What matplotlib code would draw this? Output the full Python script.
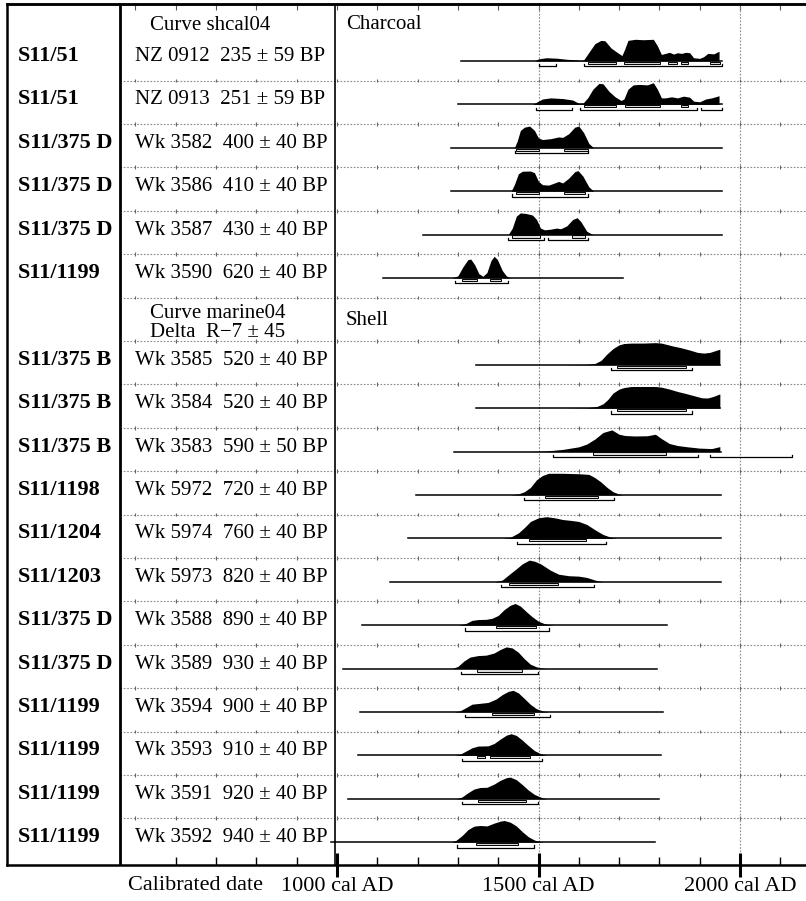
import matplotlib
matplotlib.use("Agg")
import matplotlib.pyplot as plt
from matplotlib.patches import Rectangle

plt.rcParams['font.family'] = ['Liberation Serif', 'DejaVu Serif']

# ---------------- data ----------------
sites = ["S11/51", "S11/51", "S11/375 D", "S11/375 D", "S11/375 D", "S11/1199",
         "S11/375 B", "S11/375 B", "S11/375 B", "S11/1198", "S11/1204", "S11/1203",
         "S11/375 D", "S11/375 D", "S11/1199", "S11/1199", "S11/1199", "S11/1199"]
labs = ["NZ 0912", "NZ 0913", "Wk 3582", "Wk 3586", "Wk 3587", "Wk 3590",
        "Wk 3585", "Wk 3584", "Wk 3583", "Wk 5972", "Wk 5974", "Wk 5973",
        "Wk 3588", "Wk 3589", "Wk 3594", "Wk 3593", "Wk 3591", "Wk 3592"]
bp_age = [235, 251, 400, 410, 430, 620, 520, 520, 590, 720, 760, 820,
          890, 930, 900, 910, 920, 940]
bp_err = [59, 59, 40, 40, 40, 40, 40, 40, 50, 40, 40, 40,
          40, 40, 40, 40, 40, 40]
n_charcoal = 6

span_start = [1308, 1300, 1283, 1283, 1213, 1114, 1345, 1345, 1290, 1196, 1176, 1131,
              1062, 1015, 1057, 1052, 1027, 985]
span_end = [1955, 1955, 1955, 1955, 1955, 1710, 1950, 1950, 1953, 1953, 1953, 1953,
            1819, 1794, 1809, 1804, 1799, 1789]

profile_years = [
    [1490, 1500, 1520, 1545, 1570, 1595, 1605, 1612, 1625, 1640, 1655, 1665, 1680, 1695, 1707,
     1714, 1722, 1740, 1760, 1785, 1795, 1805, 1815, 1825, 1835, 1845, 1855, 1865, 1875, 1885,
     1900, 1910, 1920, 1935, 1948, 1948],
    [1485, 1495, 1510, 1530, 1560, 1585, 1600, 1610, 1622, 1635, 1650, 1660, 1675, 1690, 1705,
     1712, 1722, 1735, 1750, 1770, 1785, 1795, 1805, 1815, 1830, 1845, 1860, 1875, 1885, 1900,
     1915, 1930, 1948, 1948],
    [1440, 1447, 1455, 1465, 1478, 1490, 1500, 1510, 1530, 1550, 1560, 1575, 1590, 1600, 1612,
     1625, 1637],
    [1432, 1440, 1450, 1460, 1480, 1490, 1500, 1510, 1525, 1540, 1550, 1560, 1575, 1590, 1598,
     1610, 1625, 1637],
    [1425, 1435, 1445, 1455, 1470, 1485, 1495, 1505, 1515, 1530, 1545, 1555, 1570, 1585, 1596,
     1605, 1620, 1635],
    [1285, 1300, 1312, 1325, 1332, 1342, 1352, 1362, 1372, 1382, 1390, 1398, 1410, 1420, 1430],
    [1560, 1620, 1640, 1655, 1670, 1685, 1700, 1712, 1730, 1760, 1790, 1805, 1820, 1835, 1855,
     1875, 1895, 1910, 1925, 1940, 1950, 1950],
    [1560, 1620, 1645, 1660, 1672, 1685, 1700, 1712, 1730, 1760, 1790, 1805, 1825, 1845, 1865,
     1885, 1905, 1920, 1935, 1950, 1950],
    [1480, 1520, 1560, 1600, 1620, 1640, 1660, 1682, 1700, 1715, 1740, 1770, 1790, 1805, 1825,
     1845, 1870, 1900, 1930, 1950, 1950],
    [1430, 1450, 1465, 1480, 1495, 1510, 1525, 1560, 1600, 1625, 1640, 1655, 1670, 1685, 1700,
     1710],
    [1410, 1430, 1450, 1465, 1480, 1500, 1520, 1540, 1560, 1580, 1600, 1620, 1640, 1660, 1680,
     1695],
    [1390, 1410, 1430, 1445, 1460, 1477, 1490, 1505, 1530, 1550, 1575, 1600, 1620, 1640, 1660],
    [1300, 1320, 1335, 1350, 1370, 1385, 1400, 1415, 1430, 1442, 1455, 1470, 1485, 1500, 1515,
     1530, 1540],
    [1285, 1300, 1315, 1330, 1350, 1370, 1390, 1405, 1420, 1435, 1450, 1465, 1480, 1495, 1510,
     1520],
    [1290, 1305, 1320, 1335, 1355, 1375, 1395, 1410, 1425, 1437, 1450, 1465, 1480, 1495, 1510,
     1525],
    [1290, 1305, 1320, 1335, 1350, 1375, 1390, 1405, 1420, 1432, 1445, 1460, 1475, 1490, 1505,
     1520],
    [1295, 1310, 1325, 1340, 1355, 1372, 1390, 1405, 1420, 1430, 1445, 1460, 1475, 1490, 1505,
     1520],
    [1283, 1295, 1310, 1325, 1340, 1355, 1372, 1390, 1405, 1415, 1430, 1445, 1460, 1475, 1490,
     1505, 1515],
]
profile_prob = [
    [0, 0.10, 0.15, 0.13, 0.08, 0.05, 0.02, 0.05, 0.40, 0.80, 0.95, 0.93, 0.60, 0.40, 0.25,
     0.55, 0.95, 1.0, 0.98, 1.0, 0.70, 0.30, 0.35, 0.40, 0.32, 0.38, 0.35, 0.40, 0.38, 0.15,
     0.12, 0.20, 0.35, 0.33, 0.45, 0],
    [0, 0.10, 0.25, 0.30, 0.27, 0.20, 0.05, 0.05, 0.30, 0.70, 0.97, 0.95, 0.60, 0.35, 0.18,
     0.25, 0.70, 0.90, 0.92, 0.90, 1.0, 0.70, 0.30, 0.30, 0.35, 0.30, 0.38, 0.33, 0.15, 0.12,
     0.25, 0.30, 0.40, 0],
    [0, 0.30, 0.80, 0.95, 1.0, 0.80, 0.45, 0.38, 0.42, 0.50, 0.48, 0.65, 0.95, 1.0, 0.70,
     0.20, 0],
    [0, 0.30, 0.80, 0.92, 0.93, 0.85, 0.45, 0.30, 0.28, 0.38, 0.45, 0.38, 0.60, 0.90, 0.95,
     0.70, 0.20, 0],
    [0, 0.30, 0.85, 1.0, 0.97, 0.90, 0.70, 0.30, 0.22, 0.25, 0.30, 0.27, 0.40, 0.70, 0.78,
     0.60, 0.15, 0],
    [0, 0.10, 0.50, 0.85, 0.87, 0.60, 0.20, 0.08, 0.25, 0.80, 1.0, 0.85, 0.35, 0.10, 0],
    [0, 0.02, 0.06, 0.20, 0.50, 0.75, 0.92, 0.98, 1.0, 1.0, 1.02, 1.0, 0.93, 0.86, 0.78,
     0.68, 0.57, 0.54, 0.57, 0.66, 0.72, 0],
    [0, 0.02, 0.08, 0.20, 0.40, 0.70, 0.88, 0.95, 1.0, 1.0, 1.0, 0.97, 0.88, 0.77, 0.68,
     0.58, 0.48, 0.47, 0.55, 0.66, 0],
    [0, 0.03, 0.10, 0.22, 0.35, 0.58, 0.88, 1.0, 0.80, 0.74, 0.72, 0.73, 0.80, 0.60, 0.37,
     0.28, 0.22, 0.16, 0.14, 0.23, 0],
    [0, 0.05, 0.15, 0.35, 0.70, 0.90, 1.0, 1.0, 0.98, 0.95, 0.80, 0.60, 0.35, 0.15, 0.04, 0],
    [0, 0.05, 0.25, 0.50, 0.78, 0.95, 1.0, 0.95, 0.87, 0.83, 0.78, 0.64, 0.40, 0.18, 0.05, 0],
    [0, 0.08, 0.38, 0.60, 0.83, 1.0, 0.95, 0.83, 0.53, 0.35, 0.28, 0.26, 0.20, 0.08, 0],
    [0, 0.08, 0.22, 0.26, 0.27, 0.32, 0.45, 0.72, 0.92, 1.0, 0.88, 0.62, 0.38, 0.18, 0.07,
     0.02, 0],
    [0, 0.10, 0.35, 0.53, 0.60, 0.62, 0.72, 0.88, 1.0, 0.95, 0.75, 0.45, 0.20, 0.08, 0.02, 0],
    [0, 0.05, 0.20, 0.36, 0.40, 0.44, 0.60, 0.80, 0.95, 1.0, 0.88, 0.62, 0.35, 0.15, 0.05, 0],
    [0, 0.05, 0.20, 0.35, 0.43, 0.44, 0.55, 0.75, 0.93, 1.0, 0.92, 0.70, 0.45, 0.22, 0.08, 0],
    [0, 0.08, 0.28, 0.45, 0.52, 0.53, 0.68, 0.85, 0.97, 1.0, 0.88, 0.65, 0.40, 0.20, 0.08, 0],
    [0, 0.08, 0.30, 0.58, 0.74, 0.77, 0.75, 0.88, 0.97, 1.0, 0.92, 0.75, 0.48, 0.25, 0.10,
     0.02, 0],
]

range_1sigma = [
    [(1623, 1692), (1712, 1802), (1821, 1844), (1854, 1872), (1925, 1950)],
    [(1613, 1692), (1715, 1802), (1854, 1872)],
    [(1444, 1501), (1563, 1623)],
    [(1444, 1501), (1563, 1615)],
    [(1434, 1504), (1583, 1615)],
    [(1310, 1347), (1380, 1407)],
    [(1695, 1866)],
    [(1695, 1866)],
    [(1635, 1817)],
    [(1516, 1647)],
    [(1477, 1618)],
    [(1427, 1548)],
    [(1394, 1494)],
    [(1347, 1459)],
    [(1384, 1489)],
    [(1347, 1367), (1380, 1479)],
    [(1350, 1469)],
    [(1345, 1449)],
]
range_2sigma = [
    [(1501, 1543), (1613, 1955)],
    [(1494, 1584), (1603, 1893), (1903, 1955)],
    [(1442, 1623)],
    [(1434, 1623)],
    [(1424, 1514), (1524, 1623)],
    [(1293, 1424)],
    [(1680, 1881)],
    [(1680, 1881)],
    [(1536, 1896), (1926, 2130)],
    [(1464, 1688)],
    [(1447, 1667)],
    [(1407, 1638)],
    [(1318, 1526)],
    [(1308, 1499)],
    [(1318, 1529)],
    [(1310, 1509)],
    [(1310, 1499)],
    [(1298, 1489)],
]

major_years = [1000, 1500, 2000]
major_labels = ["1000 cal AD", "1500 cal AD", "2000 cal AD"]
minor_years = [y for y in range(600, 2101, 100) if y not in major_years]
grid_tick_years = list(range(500, 2101, 100))

# ---------------- layout helpers ----------------
W, H = 806, 901
X0_PX, X0_YR, PX_PER_YR = 337.0, 1000.0, 0.403
Y1_PX, ROW_PX = 61.0, 43.4


def px2yr(p):
    return X0_YR + (p - X0_PX) / PX_PER_YR


def px2row(q):
    return 1 + (q - Y1_PX) / ROW_PX


fig = plt.figure(figsize=(W / 100, H / 100), dpi=100)
left_px, right_px, top_px, bot_px = 7, 806, 4, 865
ax = fig.add_axes([left_px / W, 1 - bot_px / H, (right_px - left_px) / W, (bot_px - top_px) / H])
ax.set_xlim(px2yr(left_px), px2yr(right_px))
ax.set_ylim(px2row(bot_px), px2row(top_px))

for s in ['left', 'top', 'bottom']:
    ax.spines[s].set_linewidth(1.8)
ax.spines['right'].set_visible(False)
ax.set_yticks([])

ax.set_xticks(major_years, labels=major_labels)
ax.set_xticks(minor_years, minor=True)
ax.tick_params(axis='x', which='major', direction='inout', length=17, width=2.2,
               labelsize=16, pad=0)
ax.tick_params(axis='x', which='minor', direction='in', length=6, width=1.0)

sec = ax.secondary_xaxis('top')
sec.set_xticks(grid_tick_years)
sec.tick_params(direction='in', length=4, width=0.8, labeltop=False, color='#555555')
sec.spines['top'].set_linewidth(1.8)

col1_yr = px2yr(120)
col2_yr = px2yr(335)
ymin, ymax = px2row(bot_px), px2row(top_px)

grid_col = '#8a8a8a'
# vertical grid
for yr in [1500, 2000]:
    ax.plot([yr, yr], [ymin, ymax], color=grid_col, lw=0.8, ls=(0, (1.5, 1.5)), zorder=1)

# slots: charcoal 1..6, header 7, shell 8..19
n = len(sites)
slots = [i + 1 if i < n_charcoal else i + 2 for i in range(n)]

# horizontal grid lines between rows
for k in range(1, 19):
    gy = k + 0.45
    ax.plot([col1_yr, px2yr(right_px)], [gy, gy], color=grid_col, lw=0.8,
            ls=(0, (1.5, 1.5)), zorder=1)
    ax.vlines(grid_tick_years, gy - 0.045, gy + 0.045, color='#666666', lw=0.8, zorder=1)

# column separators
ax.plot([col1_yr, col1_yr], [ymin, ymax], color='black', lw=2.0, zorder=3)
ax.plot([col2_yr, col2_yr], [ymin, ymax], color='black', lw=1.2, zorder=3)

SCALE = 0.5
for i in range(n):
    base = slots[i]
    ys = [base - SCALE * p for p in profile_prob[i]]
    ax.fill_between(profile_years[i], base, ys, color='black', lw=0, zorder=4)
    ax.plot([span_start[i], span_end[i]], [base, base], color='black', lw=1.1, zorder=5)
    for a, b in range_1sigma[i]:
        ax.add_patch(Rectangle((a, base + 0.02), b - a, 0.05, facecolor='#d8d8d8',
                               edgecolor='black', lw=0.7, zorder=5))
    for a, b in range_2sigma[i]:
        y2 = base + 0.125
        ax.plot([a, a, b, b], [base + 0.075, y2, y2, base + 0.075], color='black',
                lw=0.9, zorder=5)
    ax.text(px2yr(18), base, sites[i], fontsize=16, fontweight='bold', ha='left',
            va='baseline', zorder=6)
    ax.text(px2yr(135), base, f"{labs[i]}  {bp_age[i]} ± {bp_err[i]} BP", fontsize=15,
            ha='left', va='baseline', zorder=6)

# headers
ax.text(px2yr(150), px2row(30), "Curve shcal04", fontsize=15, ha='left', va='baseline')
ax.text(px2yr(346), px2row(29), "Charcoal", fontsize=15, ha='left', va='baseline')
ax.text(px2yr(150), px2row(318), "Curve marine04", fontsize=15, ha='left', va='baseline')
ax.text(px2yr(150), px2row(337), "Delta  R\u22127 ± 45", fontsize=15, ha='left', va='baseline')
ax.text(px2yr(346), px2row(325), "Shell", fontsize=15, ha='left', va='baseline')

ax.text(px2yr(128), px2row(890), "Calibrated date", fontsize=16, ha='left', va='baseline',
        clip_on=False)

fig.savefig("out.png", dpi=100)
